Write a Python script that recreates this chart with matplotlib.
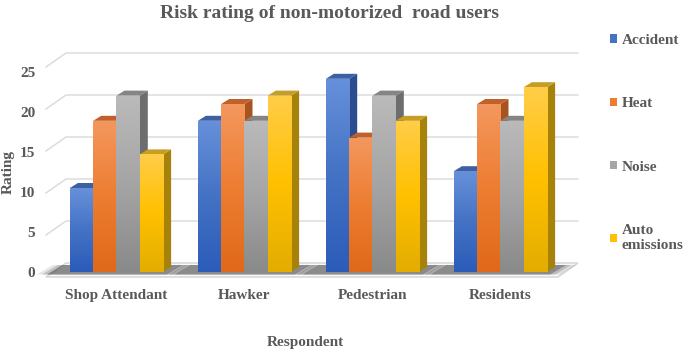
import numpy as np
import matplotlib
matplotlib.use('Agg')
import matplotlib.pyplot as plt
from matplotlib.patches import Polygon, Rectangle
from matplotlib.colors import LinearSegmentedColormap
from matplotlib.lines import Line2D

categories = ['Shop Attendant', 'Hawker', 'Pedestrian', 'Residents']
series_names = ['Accident', 'Heat', 'Noise', 'Auto\nemissions']
accident = [10, 18, 23, 12]
heat = [18, 20, 16, 20]
noise = [21, 18, 21, 18]
auto_emissions = [14, 21, 18, 22]
yticks = [0, 5, 10, 15, 20, 25]

plt.rcParams['font.family'] = ['Liberation Serif', 'DejaVu Serif']
plt.rcParams['font.weight'] = 'bold'
TXT = '#595959'

W, H = 685, 357
fig = plt.figure(figsize=(W / 100, H / 100), dpi=100)
rect = [52.5 / W, 85 / H, 512 / W, 210 / H]
px_x = 4 / 512
px_y = 25 / 210

# axis for labels (front plane, slightly lower than bar plane)
axl = fig.add_axes(rect)
axl.set_xlim(-0.5, 3.5)
axl.set_ylim(11 * px_y, 25 + 10 * px_y)
axl.set_yticks(yticks)
axl.set_yticklabels([str(v) for v in yticks])
axl.set_xticks(range(len(categories)))
axl.set_xticklabels(categories)
for s in axl.spines.values():
    s.set_visible(False)
axl.tick_params(length=0, labelsize=11, labelcolor=TXT)
axl.tick_params(axis='y', pad=12.5)
axl.tick_params(axis='x', pad=12.5)
axl.set_ylabel('Rating', fontsize=11, color=TXT, fontweight='bold')
axl.yaxis.set_label_coords(-0.074, 0.476)
axl.set_xlabel('Respondent', fontsize=11, color=TXT, fontweight='bold')
axl.xaxis.set_label_coords(0.493, -0.305)
axl.patch.set_visible(False)

ax = fig.add_axes(rect)
ax.set_facecolor('none')
ax.axis('off')
ax.set_xlim(-0.5, 3.5)
ax.set_ylim(0, 25)

x_f0 = -0.5 + (46 - 52.5) * px_x
x_f1 = -0.5 + (558 - 52.5) * px_x
x_w0 = -0.5 + (66 - 52.5) * px_x
x_w1 = -0.5 + (578 - 52.5) * px_x
yf = -5 * px_y
yw = 9 * px_y

# back wall gridlines
for v in yticks[1:]:
    ax.add_line(Line2D([x_f0, x_w0, x_w1], [v + yf, v + yw, v + yw],
                       color='#d9d9d9', lw=1, clip_on=False, zorder=1))

# floor
ax.add_patch(Polygon([(x_f0, yf), (x_f1, yf), (x_w1, yw), (x_w0, yw)],
                     closed=True, facecolor='#f8f8f8', edgecolor='#d9d9d9',
                     lw=1.2, clip_on=False, zorder=1))

series = [accident, heat, noise, auto_emissions]
grads = [('#2c5cba', '#4472c4', '#6690da'),
         ('#e0691a', '#ed7d31', '#f4975e'),
         ('#8a8a8a', '#a5a5a5', '#bababa'),
         ('#e3ad00', '#ffc000', '#ffcd48')]
side_cols = ['#2b4d8f', '#a9541e', '#6d6d6d', '#a7820a']
top_cols = ['#3d5fa3', '#c0612b', '#858585', '#c89e22']
legend_cols = ['#4472c4', '#ed7d31', '#a5a5a5', '#ffc000']

n = len(series)
w = 23.3 / 128
dx = 8 * px_x
dy = 5 * px_y

# shadows under groups
for c in range(len(categories)):
    xl = c - 2 * w
    xr = c + 2 * w
    for k, a in enumerate([0.12, 0.2, 0.35]):
        e = (3 - k) * 5 * px_x
        ax.add_patch(Polygon([(xl - 18 * px_x - e, -2.5 * px_y), (xr - 2 * px_x + e, -2.5 * px_y),
                              (xr + 14 * px_x + e, 7 * px_y), (xl - 2 * px_x - e, 7 * px_y)],
                             closed=True, facecolor='#303030', edgecolor='none',
                             alpha=a, clip_on=False, zorder=2))

x = np.arange(len(categories))
grad = np.linspace(0, 1, 100).reshape(-1, 1)
z = 3
for c in range(len(categories)):
    for i in range(n):
        v = series[i][c]
        x0 = x[c] + (i - n / 2) * w
        x1 = x0 + w
        ax.add_patch(Polygon([(x1, 0), (x1 + dx, dy), (x1 + dx, v + dy), (x1, v)],
                             closed=True, facecolor=side_cols[i], edgecolor='none',
                             clip_on=False, zorder=z))
        ax.add_patch(Polygon([(x0, v), (x1, v), (x1 + dx, v + dy), (x0 + dx, v + dy)],
                             closed=True, facecolor=top_cols[i], edgecolor='none',
                             clip_on=False, zorder=z))
        bar = ax.bar(x0, v, width=w, align='edge', color=legend_cols[i],
                     edgecolor='none', zorder=z + 0.5, clip_on=False)[0]
        cmap = LinearSegmentedColormap.from_list('g%d' % i, grads[i])
        im = ax.imshow(grad, cmap=cmap, origin='lower', extent=(x0, x1, 0, v),
                       aspect='auto', zorder=z + 0.6, interpolation='bilinear')
        im.set_clip_path(bar)
        z += 1

ax.set_xlim(-0.5, 3.5)
ax.set_ylim(0, 25)

# legend
handles = [Rectangle((0, 0), 1, 1, facecolor=legend_cols[i], edgecolor='none') for i in range(n)]
leg = fig.legend(handles, series_names, loc='upper left', bbox_to_anchor=(610 / W, 1 - 34 / H),
                 frameon=False, labelcolor=TXT, handlelength=0.45,
                 handleheight=0.45, handletextpad=0.3, labelspacing=3.3,
                 borderaxespad=0, borderpad=0, prop={'weight': 'bold', 'size': 11})

fig.text(330 / W, 1 - 13 / H, 'Risk rating of non-motorized  road users', ha='center',
         va='center', fontsize=14, fontweight='bold', color=TXT)

fig.savefig('out.png', dpi=100)
